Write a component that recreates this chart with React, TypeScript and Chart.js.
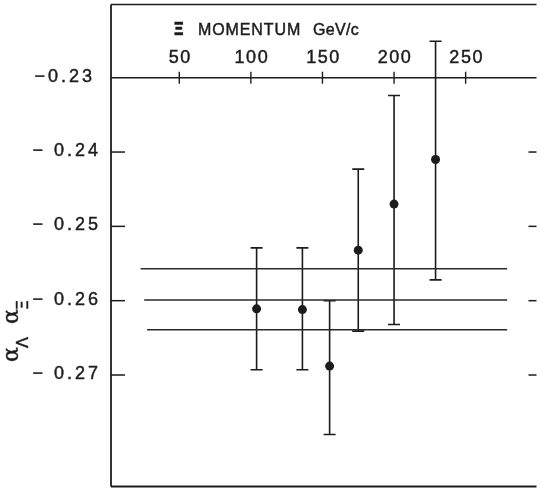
import React, { useEffect, useRef } from "react";
import { Chart, registerables } from "chart.js";

Chart.register(...registerables);

// Ξ beam momentum (GeV/c) of each bin and the measured αΞ·αΛ product
const momentum = [104, 136, 155, 175, 200, 229];
const alphaProduct = [-0.2611, -0.2612, -0.2688, -0.2532, -0.247, -0.241];
const errorTop = [-0.2529, -0.2529, -0.26, -0.2423, -0.2324, -0.2251];
const errorBottom = [-0.2693, -0.2693, -0.278, -0.2641, -0.2632, -0.2572];

// Overall average with its ±1σ band
const bandLevels = [-0.2557, -0.2599, -0.2639];
const bandStart = [23, 25.5, 27.5];
const bandEnd = [279, 279, 279];

const xTicks = [50, 100, 150, 200, 250];
const xTickLabels = ["50", "100", "150", "200", "250"];
const yTicks = [-0.23, -0.24, -0.25, -0.26, -0.27];
const yTickLabels = ["−0.23", "− 0.24", "− 0.25", "− 0.26", "− 0.27"];

const INK = "#1c1c1c";
const SANS = '"Liberation Sans", Arial, sans-serif';

// fill plus a hairline stroke so the lettering reads as inked
function inkText(ctx: CanvasRenderingContext2D, s: string, x: number, y: number) {
  ctx.fillText(s, x, y);
  ctx.strokeText(s, x, y);
}

const framePlugin = {
  id: "hepFrame",
  beforeDatasetsDraw(chart: any) {
    const { ctx, chartArea, scales } = chart;
    const x = scales.x;
    const y = scales.y;
    ctx.save();
    ctx.strokeStyle = INK;
    ctx.fillStyle = INK;
    ctx.lineCap = "butt";

    // frame: left, top, bottom
    ctx.lineWidth = 1.8;
    ctx.beginPath();
    ctx.moveTo(chartArea.left - 1, chartArea.top);
    ctx.lineTo(chartArea.left - 1, chartArea.bottom);
    ctx.stroke();
    ctx.lineWidth = 1.6;
    ctx.beginPath();
    ctx.moveTo(chartArea.left - 1, chartArea.top);
    ctx.lineTo(chartArea.right, chartArea.top);
    ctx.stroke();
    ctx.lineWidth = 2;
    ctx.beginPath();
    ctx.moveTo(chartArea.left - 1, chartArea.bottom);
    ctx.lineTo(chartArea.right, chartArea.bottom);
    ctx.stroke();

    // momentum axis drawn along the -0.23 level
    const axisY = y.getPixelForValue(yTicks[0]);
    ctx.lineWidth = 1.6;
    ctx.beginPath();
    ctx.moveTo(chartArea.left - 1, axisY);
    ctx.lineTo(chartArea.right, axisY);
    ctx.stroke();
    ctx.lineWidth = 1.4;
    xTicks.forEach((v) => {
      const px = x.getPixelForValue(v);
      ctx.beginPath();
      ctx.moveTo(px, axisY - 6);
      ctx.lineTo(px, axisY + 6);
      ctx.stroke();
    });

    ctx.lineWidth = 0.45;
    ctx.textAlign = "center";
    ctx.textBaseline = "middle";
    ctx.font = "18px " + SANS;
    (ctx as any).letterSpacing = "1.5px";
    xTicks.forEach((v, i) => {
      inkText(ctx, xTickLabels[i], x.getPixelForValue(v) + 1, axisY - 20);
    });

    // axis title
    ctx.textAlign = "left";
    (ctx as any).letterSpacing = "0px";
    ctx.font = 'bold 18px "DejaVu Sans", sans-serif';
    inkText(ctx, "Ξ", 173, axisY - 47);
    ctx.font = "16px " + SANS;
    (ctx as any).letterSpacing = "0.9px";
    inkText(ctx, "MOMENTUM", 198, axisY - 47);
    (ctx as any).letterSpacing = "0.3px";
    inkText(ctx, "GeV/c", 313, axisY - 47);

    // y ticks on both sides
    ctx.lineWidth = 1.5;
    yTicks.forEach((v, i) => {
      if (i === 0) return;
      const py = y.getPixelForValue(v);
      ctx.beginPath();
      ctx.moveTo(chartArea.left - 1, py);
      ctx.lineTo(chartArea.left + 13, py);
      ctx.stroke();
      ctx.beginPath();
      ctx.moveTo(chartArea.right - 8, py);
      ctx.lineTo(chartArea.right, py);
      ctx.stroke();
    });
    ctx.lineWidth = 0.45;
    ctx.textAlign = "right";
    ctx.font = "18px " + SANS;
    (ctx as any).letterSpacing = "3px";
    yTicks.forEach((v, i) => {
      const right = i === 0 ? 95 : 101;
      inkText(ctx, yTickLabels[i], right, y.getPixelForValue(v) - 1);
    });
    (ctx as any).letterSpacing = "0px";

    // rotated axis title  αΛ αΞ
    ctx.save();
    ctx.translate(18, 362);
    ctx.rotate(-Math.PI / 2);
    ctx.textAlign = "left";
    ctx.textBaseline = "alphabetic";
    ctx.font = '22px "DejaVu Serif", serif';
    inkText(ctx, "α", 0, 0);
    inkText(ctx, "α", 38, 0);
    ctx.font = '16px "DejaVu Sans", sans-serif';
    inkText(ctx, "Λ", 14, 10);
    inkText(ctx, "Ξ", 52, 10);
    ctx.restore();

    // error bars
    ctx.lineWidth = 1.6;
    momentum.forEach((m, i) => {
      const px = x.getPixelForValue(m);
      const top = y.getPixelForValue(errorTop[i]);
      const bot = y.getPixelForValue(errorBottom[i]);
      ctx.beginPath();
      ctx.moveTo(px, top);
      ctx.lineTo(px, bot);
      ctx.moveTo(px - 6, top);
      ctx.lineTo(px + 6, top);
      ctx.moveTo(px - 6, bot);
      ctx.lineTo(px + 6, bot);
      ctx.stroke();
    });
    ctx.restore();
  },
};

export default function App() {
  const canvasRef = useRef<HTMLCanvasElement | null>(null);

  useEffect(() => {
    document.body.style.margin = "0";
    const canvas = canvasRef.current;
    if (!canvas) return;

    const bandSets = bandLevels.map((lvl, i) => ({
      type: "line" as const,
      data: [
        { x: bandStart[i], y: lvl },
        { x: bandEnd[i], y: lvl },
      ],
      borderColor: "#2a2a2a",
      borderWidth: 1.5,
      pointRadius: 0,
      showLine: true,
      fill: false,
    }));

    const chart = new Chart(canvas, {
      type: "scatter",
      data: {
        datasets: [
          ...bandSets,
          {
            type: "scatter" as const,
            data: momentum.map((m, i) => ({ x: m, y: alphaProduct[i] })),
            backgroundColor: INK,
            borderColor: INK,
            pointRadius: 4.5,
            pointBorderWidth: 0,
          },
        ] as any,
      },
      options: {
        responsive: false,
        animation: false,
        devicePixelRatio: 1,
        layout: { padding: { left: 112, top: 2, right: 0, bottom: 4 } },
        plugins: { legend: { display: false }, tooltip: { enabled: false } },
        scales: {
          x: { type: "linear", min: 3, max: 299.5, display: false },
          y: { type: "linear", min: -0.285, max: -0.22015, display: false },
        },
      },
      plugins: [framePlugin],
    });
    return () => chart.destroy();
  }, []);

  return (
    <div style={{ width: 541, height: 491, background: "#fff" }}>
      <canvas ref={canvasRef} width={541} height={491} />
    </div>
  );
}
